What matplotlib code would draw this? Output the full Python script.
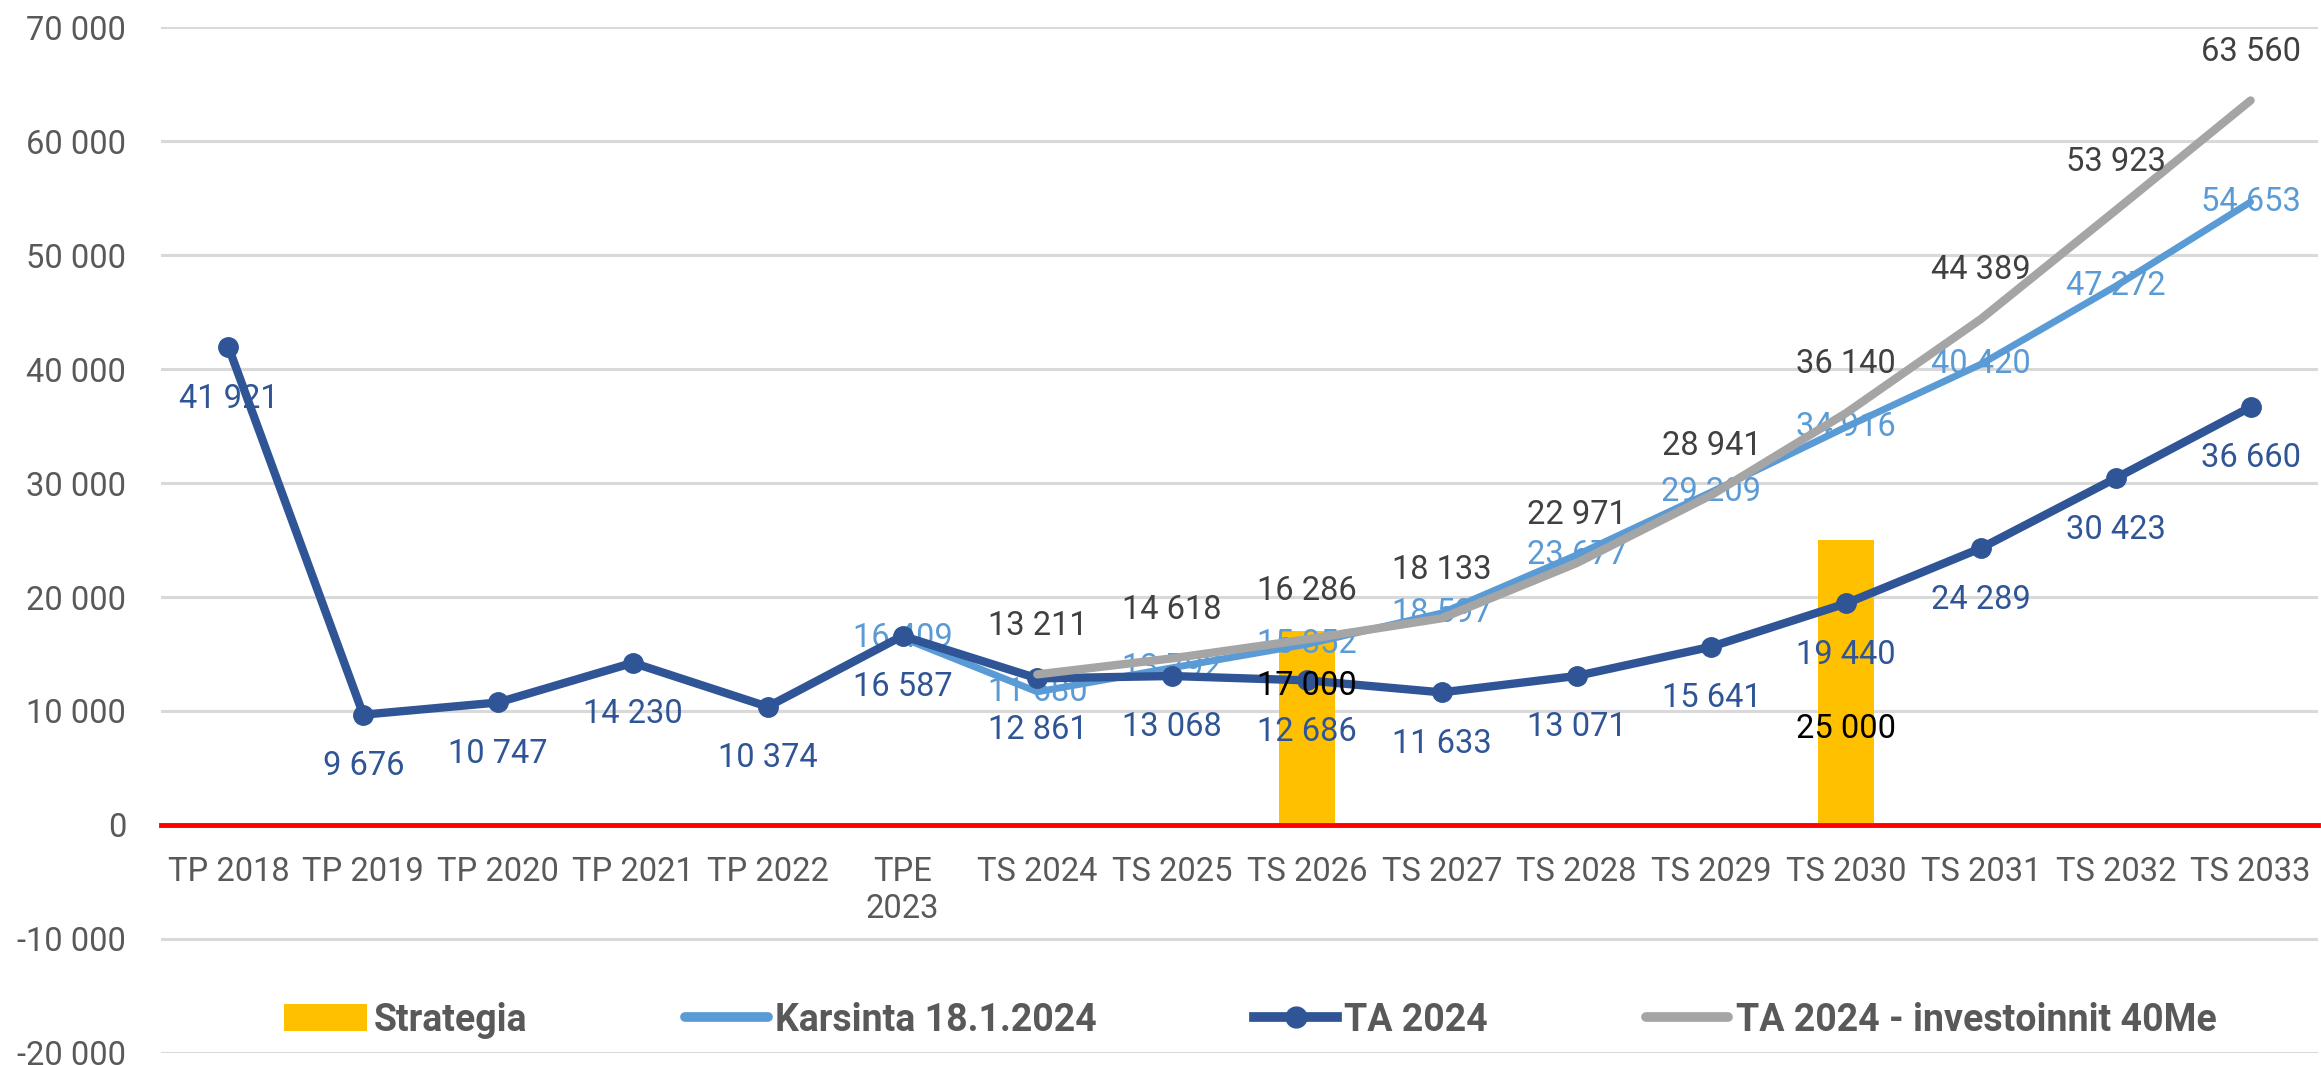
# Kuntatalous: vuosikate / lainakanta -tyyppinen vertailukuva (Excel-kuvan jäljitelmä)
import numpy as np
import matplotlib
matplotlib.use("Agg")
import matplotlib.pyplot as plt
from matplotlib.ticker import FuncFormatter, MultipleLocator
from matplotlib.lines import Line2D
from matplotlib.patches import Patch

plt.rcParams['font.family'] = ['Roboto', 'DejaVu Sans']

nan = np.nan

categories = ['TP 2018', 'TP 2019', 'TP 2020', 'TP 2021', 'TP 2022', 'TPE\n2023',
              'TS 2024', 'TS 2025', 'TS 2026', 'TS 2027', 'TS 2028', 'TS 2029',
              'TS 2030', 'TS 2031', 'TS 2032', 'TS 2033']

ta_2024 = [41921, 9676, 10747, 14230, 10374, 16587, 12861, 13068,
           12686, 11633, 13071, 15641, 19440, 24289, 30423, 36660]
karsinta = [nan, nan, nan, nan, nan, 16409, 11680, 13792,
            15852, 18597, 23677, 29209, 34916, 40420, 47272, 54653]
investoinnit = [nan, nan, nan, nan, nan, nan, 13211, 14618,
                16286, 18133, 22971, 28941, 36140, 44389, 53923, 63560]
strategia = [nan, nan, nan, nan, nan, nan, nan, nan,
             17000, nan, nan, nan, 25000, nan, nan, nan]

# Colors
c_bar = '#FFC000'
c_light = '#5B9BD5'
c_dark = '#2F5597'
c_grey = '#A5A5A5'
c_text = '#595959'

FS = 23.5


def fmt(v):
    return f"{v:,.0f}".replace(",", " ")


fig = plt.figure(figsize=(23.21, 10.65), dpi=100)
ax = fig.add_axes([0.0694, 0.0113, 0.9293, 0.9633])

x = np.arange(len(categories))

# Strategia bars
bx = [i for i in x if not np.isnan(strategia[i])]
bv = [strategia[i] for i in bx]
ax.bar(bx, bv, width=0.42, color=c_bar, zorder=1)
# bar labels sit where Excel left them
bar_label_y = [12200, 8400]
for i, v, ly in zip(bx, bv, bar_label_y):
    ax.text(i, ly, fmt(v), ha='center', va='center', fontsize=FS, color='black', zorder=10)

# Karsinta line, labels centered on points
ax.plot(x, karsinta, color=c_light, lw=5, solid_capstyle='round', zorder=3)
for i, v in enumerate(karsinta):
    if not np.isnan(v):
        ax.text(i, v, fmt(v), ha='center', va='center', fontsize=FS, color=c_light, zorder=3.5)

# TA 2024 line with markers, labels below
ax.plot(x, ta_2024, color=c_dark, lw=6, marker='o', markersize=14, zorder=4)
for i, v in enumerate(ta_2024):
    ax.annotate(fmt(v), (i, v), xytext=(0, -37), textcoords='offset points',
                ha='center', va='center', fontsize=FS, color=c_dark, zorder=10)

# TA 2024 - investoinnit 40Me, labels above
ax.plot(x, investoinnit, color=c_grey, lw=6, solid_capstyle='round', zorder=5)
for i, v in enumerate(investoinnit):
    if not np.isnan(v):
        ax.annotate(fmt(v), (i, v), xytext=(0, 35), textcoords='offset points',
                    ha='center', va='center', fontsize=FS, color='#404040', zorder=10)

# Axes styling
ax.set_xlim(-0.5, len(categories) - 0.5)
ax.set_ylim(-20000, 70000)
ax.yaxis.set_major_locator(MultipleLocator(10000))
ax.yaxis.set_major_formatter(FuncFormatter(lambda v, p: fmt(v)))
ax.yaxis.grid(True, color='#D9D9D9', lw=2.2)
ax.set_axisbelow(True)

for s in ['top', 'right', 'left']:
    ax.spines[s].set_visible(False)
ax.spines['bottom'].set_position(('data', 0))
ax.spines['bottom'].set_color('#FF0000')
ax.spines['bottom'].set_linewidth(3.5)
ax.spines['bottom'].set_zorder(6)

ax.set_xticks(x)
ax.set_xticklabels(categories)
ax.tick_params(axis='x', length=0, pad=22, labelsize=FS, labelcolor=c_text)
ax.tick_params(axis='y', length=0, pad=25, labelsize=FS, labelcolor=c_text)

# Legend
handles = [
    Patch(facecolor=c_bar, label='Strategia'),
    Line2D([0], [0], color=c_light, lw=7, solid_capstyle='round', label='Karsinta 18.1.2024'),
    Line2D([0], [0], color=c_dark, lw=7, marker='o', markersize=15, label='TA 2024'),
    Line2D([0], [0], color=c_grey, lw=7, solid_capstyle='round', label='TA 2024 - investoinnit 40Me'),
]
leg = ax.legend(handles=handles, loc='center', bbox_to_anchor=(0.505, 0.032), ncol=4,
                frameon=False, prop={'size': 27, 'weight': 'bold'},
                handlelength=2.2, handleheight=0.75, handletextpad=0.2, columnspacing=4.2)
for t in leg.get_texts():
    t.set_color(c_text)

fig.savefig("out.png", dpi=100)
